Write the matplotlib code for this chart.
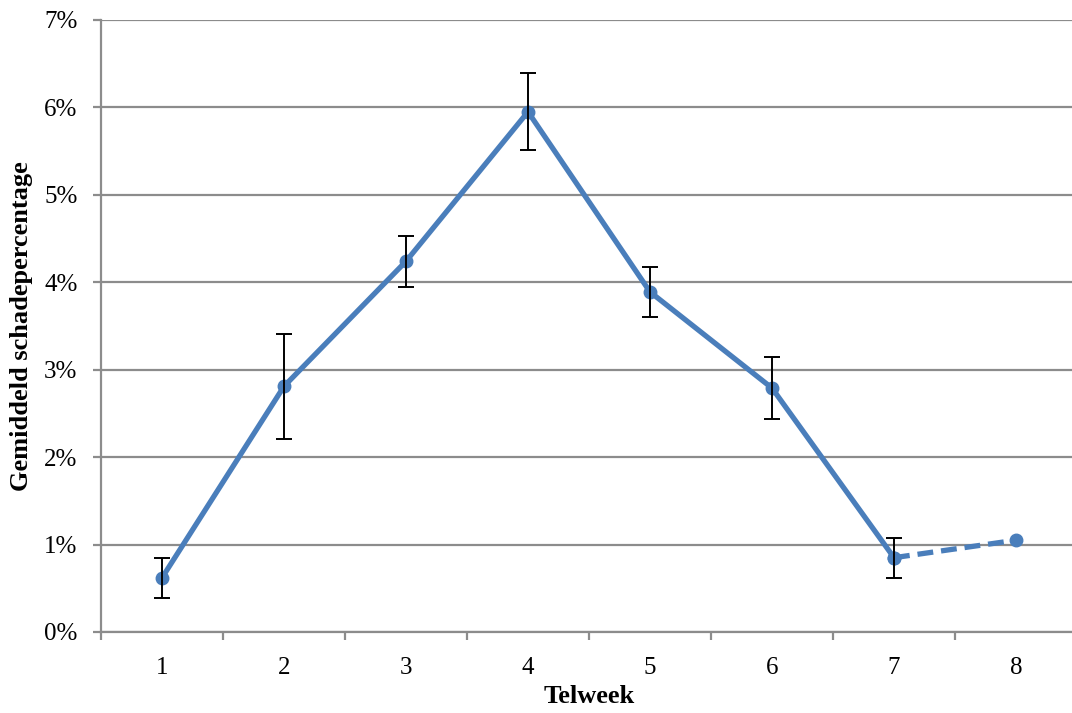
import matplotlib
matplotlib.use("Agg")
import matplotlib.pyplot as plt
from matplotlib.ticker import FixedLocator, FuncFormatter

# Gemiddeld schadepercentage per telweek (in %)
weeks = [1, 2, 3, 4, 5, 6, 7, 8]
mean_damage = [0.62, 2.81, 4.24, 5.95, 3.89, 2.79, 0.85, 1.05]
err_damage = [0.23, 0.60, 0.29, 0.44, 0.29, 0.35, 0.23]  # weeks 1-7
week_labels = ["1", "2", "3", "4", "5", "6", "7", "8"]
y_ticks = [0, 1, 2, 3, 4, 5, 6, 7]

BLUE = "#4A7EBB"
GREY = "#8C8C8C"
plt.rcParams["font.family"] = ["Liberation Serif", "DejaVu Serif"]

fig = plt.figure(figsize=(10.72, 7.13), dpi=100)
ax = fig.add_axes([101 / 1072, 81 / 713, 976 / 1072, 612 / 713])

# Gridlines
for v in y_ticks:
    ax.axhline(v, color=GREY, lw=1.6, zorder=0)

# Solid part (weeks 1-7) and dashed continuation (7-8)
ax.plot(weeks[:7], mean_damage[:7], color=BLUE, lw=3.8, marker="o", ms=9,
        solid_joinstyle="round", zorder=3)
ax.plot(weeks[6:], mean_damage[6:], color=BLUE, lw=3.8, ls=(0, (3, 1.5)),
        marker="o", ms=9, zorder=3)

# Error bars
ax.errorbar(weeks[:7], mean_damage[:7], yerr=err_damage, fmt="none",
            ecolor="black", elinewidth=1.4, capsize=5.5, capthick=1.4, zorder=4)

ax.set_xlim(0.5, 8.5)
ax.set_ylim(0, 7)
ax.yaxis.set_major_locator(FixedLocator(y_ticks))
ax.yaxis.set_major_formatter(FuncFormatter(lambda v, p: f"{int(round(v))}%"))
ax.set_xticks(weeks)
ax.set_xticklabels(week_labels)
ax.set_xticks([w + 0.5 for w in weeks[:-1]] + [0.5], minor=True)
ax.tick_params(axis="x", which="major", length=0, pad=18, labelsize=18)
ax.tick_params(axis="x", which="minor", length=6, width=1.6, color=GREY)
ax.tick_params(axis="y", length=6, width=1.6, color=GREY, pad=11, labelsize=18)

for side in ["top", "right"]:
    ax.spines[side].set_visible(False)
for side in ["left", "bottom"]:
    ax.spines[side].set_color(GREY)
    ax.spines[side].set_linewidth(1.6)

ax.set_xlabel("Telweek", fontsize=19, fontweight="bold", labelpad=4)
ax.set_ylabel("Gemiddeld schadepercentage", fontsize=19, fontweight="bold",
              labelpad=8)

fig.savefig("out.png", dpi=100)
